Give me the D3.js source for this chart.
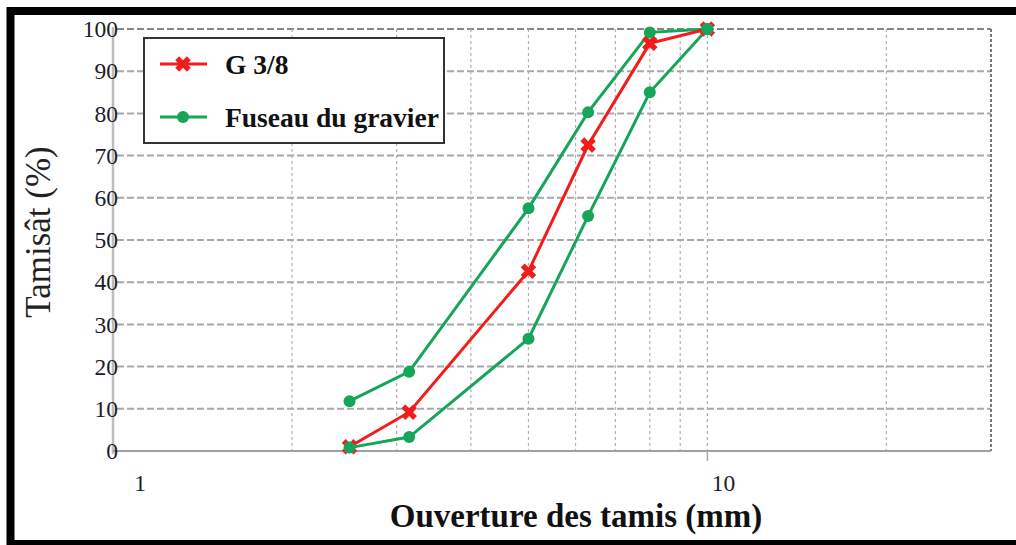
<!DOCTYPE html>
<html>
<head>
<meta charset="utf-8">
<script src="https://cdn.jsdelivr.net/npm/d3@7"></script>
<style>
  body { margin: 0; background: #fff; }
  svg { display: block; }
  text { font-family: "Liberation Serif", "Times New Roman", serif; }
</style>
</head>
<body>
<svg id="chart" width="1016" height="545"></svg>
<script>
// ---- data ----
const sieves = [2.5, 3.15, 5, 6.3, 8, 10];
const g38 = [1, 9.2, 42.6, 72.5, 96.6, 100];
const fuseauUpper = [11.8, 18.8, 57.5, 80.3, 99.2, 100];
const fuseauLower = [0.8, 3.3, 26.6, 55.7, 85, 100];
const yTicks = [0, 10, 20, 30, 40, 50, 60, 70, 80, 90, 100];
const xGrid = [2, 3, 4, 5, 6, 7, 8, 9, 10, 20];
const xLabels = [1, 10];
const legendLabels = ["G 3/8", "Fuseau du gravier"];

const svg = d3.select("#chart");
const m = { left: 113, right: 991, top: 29, bottom: 451 };

const x = d3.scaleLog().domain([1, 30]).range([m.left, m.right]);
const y = d3.scaleLinear().domain([0, 100]).range([m.bottom, m.top]);

const red = "#f21c1c", green = "#17a55a";

// frame
svg.append("rect").attr("x", 10.5).attr("y", 11).attr("width", 1030).attr("height", 533)
  .attr("fill", "none").attr("stroke", "#000").attr("stroke-width", 8);

// horizontal grid
svg.append("g").selectAll("line").data(yTicks.filter(d => d > 0)).join("line")
  .attr("x1", m.left + 4).attr("x2", m.right)
  .attr("y1", d => y(d)).attr("y2", d => y(d))
  .attr("stroke", d => d === 100 ? "#888" : "#a8a8a8")
  .attr("stroke-width", 2).attr("stroke-dasharray", "7,3");

// vertical grid
svg.append("g").selectAll("line").data(xGrid).join("line")
  .attr("x1", d => x(d)).attr("x2", d => x(d))
  .attr("y1", m.top).attr("y2", m.bottom)
  .attr("stroke", "#b0b0b0").attr("stroke-width", 1.2).attr("stroke-dasharray", "3,3");

// right frame (dashed dark)
svg.append("line").attr("x1", m.right).attr("x2", m.right).attr("y1", m.top).attr("y2", m.bottom)
  .attr("stroke", "#777").attr("stroke-width", 2).attr("stroke-dasharray", "3,2");

// axes lines
svg.append("line").attr("x1", m.left).attr("x2", m.left).attr("y1", m.top - 2).attr("y2", m.bottom + 3)
  .attr("stroke", "#bdbdbd").attr("stroke-width", 2.5);
svg.append("line").attr("x1", m.left).attr("x2", m.right).attr("y1", m.bottom).attr("y2", m.bottom)
  .attr("stroke", "#a0a0a0").attr("stroke-width", 2);
// small tick at 10
svg.append("line").attr("x1", x(10)).attr("x2", x(10)).attr("y1", m.bottom).attr("y2", m.bottom + 10)
  .attr("stroke", "#a8a8a8").attr("stroke-width", 1.5);

// y tick labels
svg.append("g").selectAll("text").data(yTicks).join("text")
  .attr("x", m.left + 5).attr("y", d => y(d)).attr("dy", "0.35em")
  .attr("text-anchor", "end").attr("font-size", 23.5).attr("fill", "#1c1c2a")
  .text(d => d);

// x tick labels
const xLabelOffset = { 1: 27, 10: 16 };
svg.append("g").selectAll("text").data(xLabels).join("text")
  .attr("x", d => x(d) + xLabelOffset[d]).attr("y", 491)
  .attr("text-anchor", "middle").attr("font-size", 23.5).attr("fill", "#1c1c2a")
  .text(d => d);

// axis titles
svg.append("text").attr("x", 576).attr("y", 527).attr("text-anchor", "middle")
  .attr("font-size", 33).attr("font-weight", "bold").attr("fill", "#111")
  .text("Ouverture des tamis (mm)");
svg.append("text").attr("transform", "translate(50,232) rotate(-90)").attr("text-anchor", "middle")
  .attr("font-size", 35).attr("fill", "#222")
  .text("Tamisât (%)");

// lines
const line = d3.line().x(d => x(d[0])).y(d => y(d[1]));
const zip = vals => sieves.map((s, i) => [s, vals[i]]);

[fuseauUpper, fuseauLower].forEach(v => {
  svg.append("path").datum(zip(v)).attr("d", line)
    .attr("fill", "none").attr("stroke", green).attr("stroke-width", 3);
});
svg.append("path").datum(zip(g38)).attr("d", line)
  .attr("fill", "none").attr("stroke", red).attr("stroke-width", 3);

// markers
const crossPath = d3.symbol().type(d3.symbolCross).size(150);
svg.append("g").selectAll("path").data(zip(g38)).join("path")
  .attr("d", crossPath)
  .attr("transform", d => `translate(${x(d[0])},${y(d[1])}) rotate(45)`)
  .attr("fill", red);
[fuseauUpper, fuseauLower].forEach(v => {
  svg.append("g").selectAll("circle").data(zip(v)).join("circle")
    .attr("cx", d => x(d[0])).attr("cy", d => y(d[1])).attr("r", 6)
    .attr("fill", green);
});

// legend
const lg = svg.append("g");
lg.append("rect").attr("x", 144).attr("y", 38).attr("width", 300).attr("height", 105)
  .attr("fill", "#fff").attr("stroke", "#333").attr("stroke-width", 2);
const legendItems = [{ label: legendLabels[0], color: red, sym: "cross" },
                     { label: legendLabels[1], color: green, sym: "circle" }];
legendItems.forEach((it, i) => {
  const cy = 64 + i * 53;
  lg.append("line").attr("x1", 160).attr("x2", 207).attr("y1", cy).attr("y2", cy)
    .attr("stroke", it.color).attr("stroke-width", 3);
  if (it.sym === "cross") {
    lg.append("path").attr("d", crossPath).attr("transform", `translate(183,${cy}) rotate(45)`).attr("fill", it.color);
  } else {
    lg.append("circle").attr("cx", 183).attr("cy", cy).attr("r", 6).attr("fill", it.color);
  }
  lg.append("text").attr("x", 225).attr("y", cy).attr("dy", "0.35em")
    .attr("font-size", 27.5).attr("font-weight", "bold").attr("fill", "#111")
    .text(it.label);
});
</script>
</body>
</html>
